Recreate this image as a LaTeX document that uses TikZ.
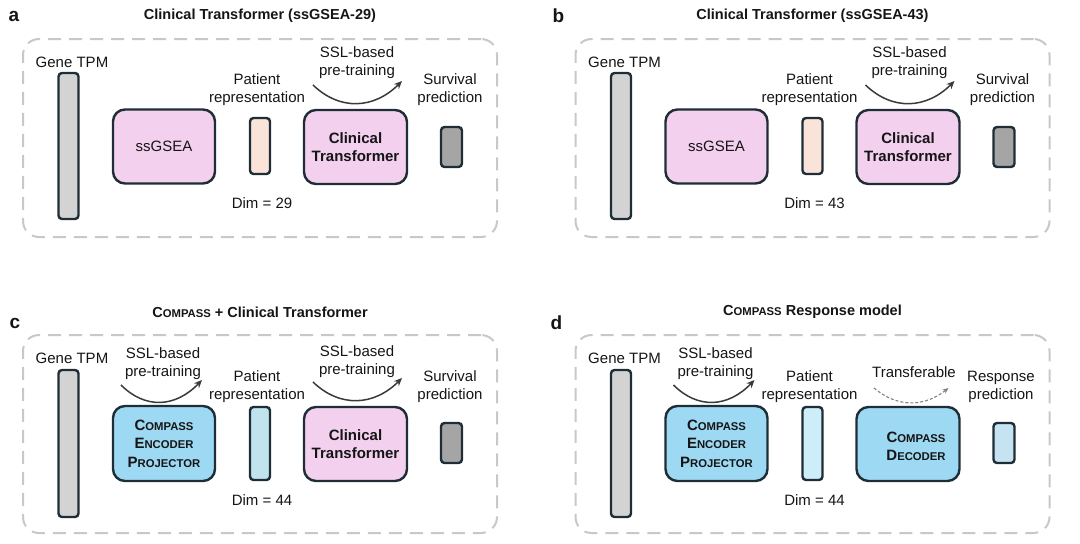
\documentclass[tikz,border=0pt]{standalone}
\usepackage{fontspec}
\setmainfont{Liberation Sans}
\usetikzlibrary{arrows.meta}
\definecolor{edgec}{HTML}{1E2D36}
\definecolor{genefill}{HTML}{D3D3D3}
\definecolor{pinkfill}{HTML}{F2D0EE}
\definecolor{peachfill}{HTML}{FAE3D9}
\definecolor{survfill}{HTML}{A5A5A5}
\definecolor{bluefill}{HTML}{9DD9F3}
\definecolor{patc}{HTML}{C0E3EE}
\definecolor{patd}{HTML}{CDEEF9}
\definecolor{respfill}{HTML}{C5E3F0}
\definecolor{dashgray}{HTML}{C8C8C8}
\definecolor{arrowc}{HTML}{3A3A3A}
\definecolor{txt}{HTML}{151515}
\newcommand{\fsc}[3]{{\fontsize{#1}{#1}\selectfont #2}{\fontsize{11.3}{11.3}\selectfont #3}}
\begin{document}
\begin{tikzpicture}[x=1pt,y=-1pt,
  lbl/.style={font=\fontsize{15}{18}\selectfont, align=center, inner sep=0pt, text=txt},
  blbl/.style={font=\bfseries\fontsize{15}{18.5}\selectfont, align=center, inner sep=0pt, text=txt},
  ttl/.style={font=\bfseries\fontsize{14.5}{17}\selectfont, inner sep=0pt, text=txt},
  plabel/.style={font=\bfseries\fontsize{19}{19}\selectfont, inner sep=0pt, text=txt},
  frame/.style={draw=dashgray, line width=2pt, dash pattern=on 13pt off 8pt, rounded corners=16pt, minimum width=474, minimum height=198, inner sep=0pt},
  bar/.style={draw=edgec, line width=2.4pt, rounded corners=3.5pt, inner sep=0pt, minimum width=20},
  bigbox/.style={draw=edgec, line width=2.4pt, rounded corners=12pt, inner sep=0pt, minimum width=102, minimum height=74},
  sslarrow/.style={draw=arrowc, line width=1.5pt, -{Stealth[length=8pt,width=7pt]}},
  tfarrow/.style={draw=gray, line width=1.1pt, dash pattern=on 3pt off 2pt, -{Stealth[length=6pt,width=5pt]}}]
\useasboundingbox (0,0) rectangle (1080,544);

% ---------------- Panel a ----------------
\node[plabel] (la) at (14,16) {a};
\node[ttl] (ta) at (260,16) {Clinical Transformer (ssGSEA-29)};
\node[frame] (fa) at (260,138) {};
\node[lbl] (gta) at (72,62) {Gene TPM};
\node[bar, fill=genefill, minimum height=146] (ga) at (68.5,146) {};
\node[bigbox, fill=pinkfill] (sa) at (164,146.5) {};
\node[lbl] at (sa.center) {ssGSEA};
\node[lbl] (pta) at (257,90) {Patient\\representation};
\node[bar, fill=peachfill, minimum height=56] (pa) at (260,146) {};
\node[lbl] (da) at (262,203) {Dim = 29};
\node[lbl] (sslta) at (357,63) {SSL-based\\pre-training};
\coordinate (a1) at (313,85);
\coordinate (a2) at (402,81);
\draw[sslarrow] (a1) .. controls (340,111) and (374,109) .. (a2);
\node[bigbox, fill=pinkfill, minimum width=103] (ca) at (355.5,147) {};
\node[blbl] at (ca.center) {Clinical\\Transformer};
\node[lbl] (svta) at (450,90) {Survival\\prediction};
\node[bar, fill=survfill, minimum width=21, minimum height=40] (va) at (451.5,147) {};

% ---------------- Panel b ----------------
\begin{scope}[shift={(552.5,0)}]
\node[plabel] (lb) at (6,16) {b};
\node[ttl] (tb) at (260,16) {Clinical Transformer (ssGSEA-43)};
\node[frame] (fb) at (260,138) {};
\node[lbl] (gtb) at (72,62) {Gene TPM};
\node[bar, fill=genefill, minimum height=146] (gb) at (68.5,146) {};
\node[bigbox, fill=pinkfill] (sb) at (164,146.5) {};
\node[lbl] at (sb.center) {ssGSEA};
\node[lbl] (ptb) at (257,90) {Patient\\representation};
\node[bar, fill=peachfill, minimum height=56] (pb) at (260,146) {};
\node[lbl] (db) at (262,203) {Dim = 43};
\node[lbl] (ssltb) at (357,63) {SSL-based\\pre-training};
\coordinate (b1) at (313,85);
\coordinate (b2) at (402,81);
\draw[sslarrow] (b1) .. controls (340,111) and (374,109) .. (b2);
\node[bigbox, fill=pinkfill, minimum width=103] (cb) at (355.5,147) {};
\node[blbl] at (cb.center) {Clinical\\Transformer};
\node[lbl] (svtb) at (450,90) {Survival\\prediction};
\node[bar, fill=survfill, minimum width=21, minimum height=40] (vb) at (451.5,147) {};
\end{scope}

% ---------------- Panel c ----------------
\node[plabel] (lc) at (15,323) {c};
\node[ttl] (tc) at (260,312) {\fsc{14.5}{C}{OMPASS} + Clinical Transformer};
\node[frame] (fc) at (260,434) {};
\node[lbl] (gtc) at (72,358) {Gene TPM};
\node[bar, fill=genefill, minimum height=147] (gc) at (68.5,443.5) {};
\node[lbl] (sslc1) at (163,364) {SSL-based\\pre-training};
\coordinate (c1) at (121,385);
\coordinate (c2) at (202,380);
\draw[sslarrow] (c1) .. controls (145,409) and (175,408) .. (c2);
\node[bigbox, fill=bluefill, minimum height=75] (ec) at (164,443.5) {};
\node[blbl] at (ec.center) {\fsc{15}{C}{OMPASS}\\\fsc{15}{E}{NCODER}\\\fsc{15}{P}{ROJECTOR}};
\node[lbl] (ptc) at (257,386.5) {Patient\\representation};
\node[bar, fill=patc, minimum height=73] (pc) at (260,443.5) {};
\node[lbl] (dc) at (262,500) {Dim = 44};
\node[lbl] (sslc2) at (357,361.5) {SSL-based\\pre-training};
\coordinate (c3) at (313,382);
\coordinate (c4) at (402,378);
\draw[sslarrow] (c3) .. controls (340,408) and (374,406) .. (c4);
\node[bigbox, fill=pinkfill, minimum width=103] (cc) at (355.5,444) {};
\node[blbl] at (cc.center) {Clinical\\Transformer};
\node[lbl] (svtc) at (450,387) {Survival\\prediction};
\node[bar, fill=survfill, minimum width=21, minimum height=40] (vc) at (451.5,443) {};

% ---------------- Panel d ----------------
\begin{scope}[shift={(552.5,0)}]
\node[plabel] (ld) at (4,323) {d};
\node[ttl] (td) at (260,312) {\fsc{14.5}{C}{OMPASS} Response model};
\node[frame] (fd) at (260,434) {};
\node[lbl] (gtd) at (72,358) {Gene TPM};
\node[bar, fill=genefill, minimum height=147] (gd) at (68.5,443.5) {};
\node[lbl] (ssld) at (163,364) {SSL-based\\pre-training};
\coordinate (d1) at (121,385);
\coordinate (d2) at (202,380);
\draw[sslarrow] (d1) .. controls (145,409) and (175,408) .. (d2);
\node[bigbox, fill=bluefill, minimum height=75] (ed) at (164,443.5) {};
\node[blbl] at (ed.center) {\fsc{15}{C}{OMPASS}\\\fsc{15}{E}{NCODER}\\\fsc{15}{P}{ROJECTOR}};
\node[lbl] (ptd) at (257,386.5) {Patient\\representation};
\node[bar, fill=patd, minimum height=73] (pd) at (260,443.5) {};
\node[lbl] (dd) at (262,500) {Dim = 44};
\node[lbl] (trd) at (361.5,372) {Transferable};
\coordinate (d3) at (321.5,388);
\coordinate (d4) at (396,388);
\draw[tfarrow] (d3) .. controls (345,408) and (372,407) .. (d4);
\node[bigbox, fill=bluefill, minimum width=103] (xd) at (355.5,444) {};
\node[blbl] at (363.5,446.5) {\fsc{15}{C}{OMPASS}\\\fsc{15}{D}{ECODER}};
\node[lbl] (rtd) at (448.5,387) {Response\\prediction};
\node[bar, fill=respfill, minimum width=21, minimum height=40] (vd) at (451.5,443) {};
\end{scope}
\end{tikzpicture}
\end{document}
